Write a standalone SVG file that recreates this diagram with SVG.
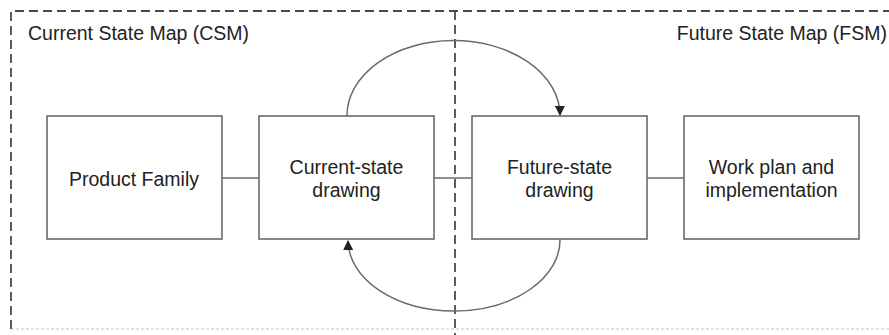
<svg xmlns="http://www.w3.org/2000/svg" width="889" height="335" viewBox="0 0 889 335">
  <style>
    .frame { fill: none; stroke: #4a4a4a; stroke-width: 1.8; stroke-dasharray: 9 5; }
    .frame-faint { fill: none; stroke: #d8d8d8; stroke-width: 1.5; stroke-dasharray: 3 2; }
    .box { fill: #ffffff; stroke: #6a6a6a; stroke-width: 1.6; }
    .link { fill: none; stroke: #6a6a6a; stroke-width: 1.5; }
    .lbl { font-family: "Liberation Sans", Arial, sans-serif; font-size: 19.5px; fill: #222222; }
    .mid { text-anchor: middle; }
  </style>
  <defs>
    <marker id="arrow" viewBox="0 0 10 10" refX="9" refY="5" markerWidth="10" markerHeight="10" markerUnits="userSpaceOnUse" orient="auto">
      <path d="M0,0 L10,5 L0,10 z" fill="#222222"/>
    </marker>
  </defs>
  <rect width="889" height="335" fill="#ffffff"/>

  <!-- dashed frame and divider -->
  <g id="frame">
    <path class="frame-faint" d="M11,329 L889,329"/>
    <path class="frame" d="M11,329 L11,11 L889,11"/>
    <path class="frame" d="M455,11 L455,335"/>
    <text class="lbl" x="28" y="40">Current State Map (CSM)</text>
    <text class="lbl" x="887" y="40" text-anchor="end">Future State Map (FSM)</text>
  </g>

  <!-- connectors -->
  <g id="connectors">
    <line class="link" x1="222" y1="178" x2="259" y2="178"/>
    <line class="link" x1="434" y1="178" x2="472" y2="178"/>
    <line class="link" x1="647" y1="178" x2="684" y2="178"/>
    <path class="link" d="M347,116 A106.5,75 0 0 1 560,115" marker-end="url(#arrow)"/>
    <path class="link" d="M560,239 A106,71 0 0 1 348,241" marker-end="url(#arrow)"/>
  </g>

  <g id="product-family">
    <rect class="box" x="47" y="116" width="175" height="123"/>
    <text class="lbl mid" x="134" y="186">Product Family</text>
  </g>

  <g id="current-state">
    <rect class="box" x="259" y="116" width="175" height="123"/>
    <text class="lbl mid" x="346.5" y="174">Current-state</text>
    <text class="lbl mid" x="346.5" y="197">drawing</text>
  </g>

  <g id="future-state">
    <rect class="box" x="472" y="116" width="175" height="123"/>
    <text class="lbl mid" x="559.5" y="174">Future-state</text>
    <text class="lbl mid" x="559.5" y="197">drawing</text>
  </g>

  <g id="work-plan">
    <rect class="box" x="684" y="116" width="175" height="123"/>
    <text class="lbl mid" x="771.5" y="174">Work plan and</text>
    <text class="lbl mid" x="771.5" y="197">implementation</text>
  </g>
</svg>
